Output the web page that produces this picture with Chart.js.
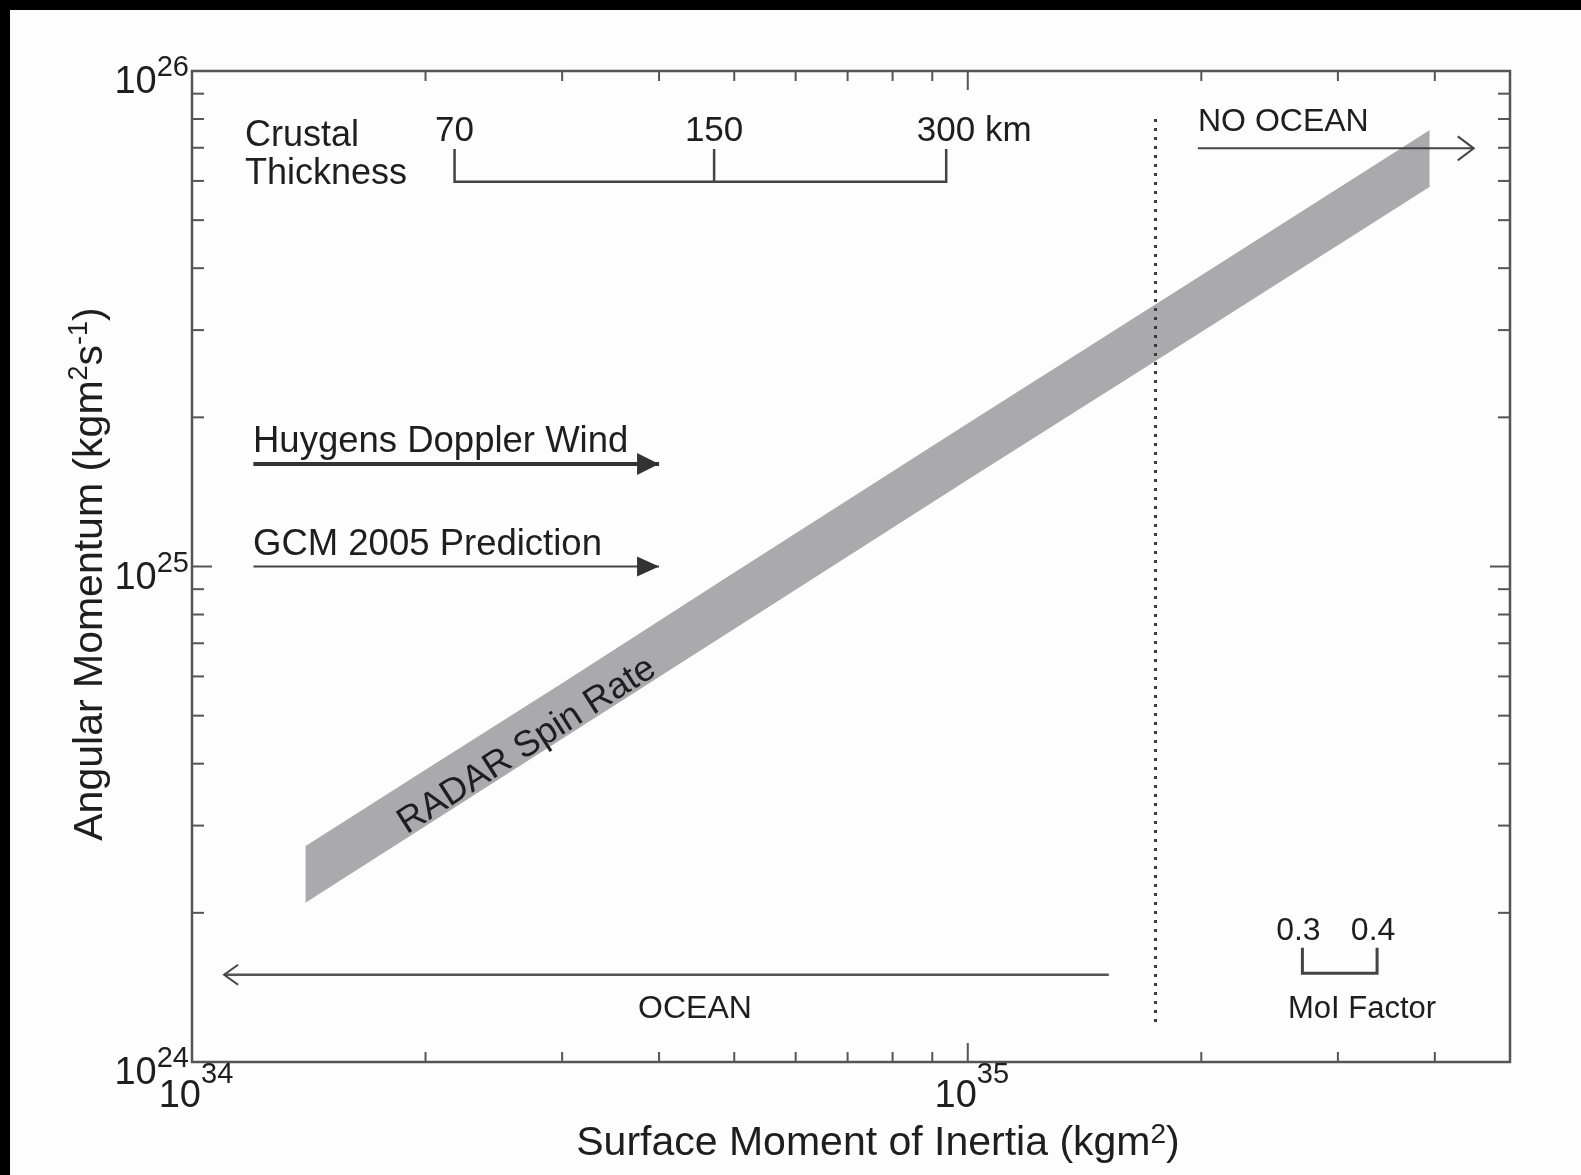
<!DOCTYPE html>
<html>
<head>
<meta charset="utf-8">
<title>Angular Momentum vs Surface Moment of Inertia</title>
<script src="https://cdn.jsdelivr.net/npm/chart.js@4.4.1/dist/chart.umd.min.js"></script>
<style>
    html, body { margin: 0; padding: 0; background: #000; }
    #wrap { position: relative; width: 1581px; height: 1175px; }
</style>
</head>
<body>
<div id="wrap"><canvas id="momentumChart"></canvas></div>
<script>
// =============================================================================
// Data
// =============================================================================

const xRange = [1e34, 5e35];
const yRange = [1e24, 1e26];

const xMajorTicks = [1e34, 1e35];
const xMajorExponents = ['34', '35'];
const xMinorTicks = [2e34, 3e34, 4e34, 5e34, 6e34, 7e34, 8e34, 9e34, 2e35, 3e35, 4e35];
const yMajorTicks = [1e24, 1e25, 1e26];
const yMajorExponents = ['24', '25', '26'];
const yMinorTicks = [2e24, 3e24, 4e24, 5e24, 6e24, 7e24, 8e24, 9e24,
                     2e25, 3e25, 4e25, 5e25, 6e25, 7e25, 8e25, 9e25];

// RADAR spin rate band
const bandMoment = [1.40e34, 2.0e34, 3.0e34, 5.0e34, 1.0e35, 2.0e35, 3.94e35];
const bandUpper  = [2.72e24, 3.88e24, 5.80e24, 9.70e24, 1.94e25, 3.86e25, 7.58e25];
const bandLower  = [2.10e24, 3.00e24, 4.50e24, 7.50e24, 1.50e25, 2.98e25, 5.85e25];

// ocean / no-ocean boundary (dotted)
const boundaryMoment = [1.746e35, 1.746e35];
const boundaryMomentum = [8.0e25, 1.2e24];

// wind estimates
const windLabels = ['Huygens Doppler Wind', 'GCM 2005 Prediction'];
const windMomentum = [1.61e25, 1.0e25];
const windArrowX = [1.2e34, 4.0e34];

// ocean arrows
const oceanArrowX = [1.52e35, 1.10e34];
const oceanArrowY = 1.5e24;
const noOceanArrowX = [1.98e35, 4.49e35];
const noOceanArrowY = 6.98e25;

// crustal thickness scale
const crustLabels = ['70', '150', '300 km'];
const crustMoment = [2.18e34, 4.71e34, 9.38e34];
const crustBracketY = [6.96e25, 5.98e25];

// MoI factor scale
const moiLabels = ['0.3', '0.4'];
const moiMoment = [2.70e35, 3.37e35];
const moiBracketY = [1.70e24, 1.51e24];

// =============================================================================
// Styling
// =============================================================================

const FONT = '"Liberation Sans", Arial, Helvetica, sans-serif';
const INK = '#1e1e1e';
const FRAME = '#555';
const BAND = 'rgb(170, 170, 173)';

function pts(xs, ys) {
    return xs.map((x, i) => ({ x: x, y: Array.isArray(ys) ? ys[i] : ys }));
}

function bracketPath(xs, top, bottom) {
    const out = [];
    xs.forEach((x, i) => {
        if (i === 0) {
            out.push({ x: x, y: top }, { x: x, y: bottom });
        } else {
            out.push({ x: x, y: bottom }, { x: x, y: top });
            if (i < xs.length - 1) out.push({ x: x, y: bottom });
        }
    });
    return out;
}

function lineSet(data, color, width, extra) {
    return Object.assign({
        data: data,
        showLine: true,
        borderColor: color,
        borderWidth: width,
        pointRadius: 0,
        fill: false
    }, extra || {});
}

// draw text made of pieces [text, size, rise]
function drawRich(ctx, parts, x, y, align) {
    let total = 0;
    parts.forEach(p => {
        ctx.font = p[1] + 'px ' + FONT;
        total += ctx.measureText(p[0]).width;
    });
    let cx = x;
    if (align === 'center') cx = x - total / 2;
    if (align === 'right') cx = x - total;
    ctx.textAlign = 'left';
    ctx.textBaseline = 'alphabetic';
    parts.forEach(p => {
        ctx.font = p[1] + 'px ' + FONT;
        ctx.fillText(p[0], cx, y - p[2]);
        cx += ctx.measureText(p[0]).width;
    });
}

function seg(ctx, x1, y1, x2, y2) {
    ctx.beginPath();
    ctx.moveTo(x1, y1);
    ctx.lineTo(x2, y2);
    ctx.stroke();
}

function solidHead(ctx, tx, ty, dir, len, half) {
    ctx.beginPath();
    ctx.moveTo(tx, ty);
    ctx.lineTo(tx - dir * len, ty - half);
    ctx.lineTo(tx - dir * len, ty + half);
    ctx.closePath();
    ctx.fill();
}

function openHead(ctx, tx, ty, dir, len, half) {
    ctx.beginPath();
    ctx.moveTo(tx - dir * len, ty - half);
    ctx.lineTo(tx, ty);
    ctx.lineTo(tx - dir * len, ty + half);
    ctx.stroke();
}

// =============================================================================
// Figure decorations (frame, ticks, labels, arrows)
// =============================================================================

const figurePlugin = {
    id: 'figureDecor',
    beforeDraw(chart) {
        const ctx = chart.ctx;
        ctx.save();
        ctx.fillStyle = '#000';
        ctx.fillRect(0, 0, chart.width, chart.height);
        ctx.fillStyle = '#fdfdfd';
        ctx.fillRect(10, 10, chart.width - 10, chart.height - 10);
        ctx.restore();
    },
    afterDatasetsDraw(chart) {
        const ctx = chart.ctx;
        const a = chart.chartArea;
        const xs = chart.scales.x;
        const ys = chart.scales.y;
        ctx.save();

        // arrow heads
        ctx.fillStyle = '#333';
        ctx.strokeStyle = '#444';
        ctx.lineWidth = 2;
        windMomentum.forEach((m, i) => {
            const tx = xs.getPixelForValue(windArrowX[1]);
            const ty = ys.getPixelForValue(m);
            solidHead(ctx, tx, ty, 1, 22, i === 0 ? 11 : 10);
        });
        openHead(ctx, xs.getPixelForValue(oceanArrowX[1]), ys.getPixelForValue(oceanArrowY), -1, 14, 10);
        openHead(ctx, xs.getPixelForValue(noOceanArrowX[1]), ys.getPixelForValue(noOceanArrowY), 1, 16, 12);

        // frame
        ctx.strokeStyle = FRAME;
        ctx.lineWidth = 2.5;
        ctx.strokeRect(a.left, a.top, a.right - a.left, a.bottom - a.top);

        // inward ticks
        ctx.lineWidth = 2;
        xMinorTicks.forEach(v => {
            const px = xs.getPixelForValue(v);
            seg(ctx, px, a.bottom, px, a.bottom - 10);
            seg(ctx, px, a.top, px, a.top + 10);
        });
        xMajorTicks.forEach(v => {
            const px = xs.getPixelForValue(v);
            seg(ctx, px, a.bottom, px, a.bottom - 19);
            seg(ctx, px, a.top, px, a.top + 19);
        });
        yMinorTicks.forEach(v => {
            const py = ys.getPixelForValue(v);
            seg(ctx, a.left, py, a.left + 12, py);
            seg(ctx, a.right, py, a.right - 12, py);
        });
        yMajorTicks.forEach(v => {
            const py = ys.getPixelForValue(v);
            seg(ctx, a.left, py, a.left + 20, py);
            seg(ctx, a.right, py, a.right - 20, py);
        });

        // tick labels
        ctx.fillStyle = INK;
        xMajorTicks.forEach((v, i) => {
            const px = xs.getPixelForValue(v);
            drawRich(ctx, [['10', 38, 0], [xMajorExponents[i], 29, 24]], px + 4, a.bottom + 45, 'center');
        });
        yMajorTicks.forEach((v, i) => {
            const py = ys.getPixelForValue(v);
            drawRich(ctx, [['10', 38, 0], [yMajorExponents[i], 29, 17]], a.left - 3, py + 22, 'right');
        });

        // axis titles
        drawRich(ctx, [['Surface Moment of Inertia (kgm', 41, 0], ['2', 28, 12], [')', 41, 0]],
                 878, 1155, 'center');
        ctx.save();
        ctx.translate(102, 574);
        ctx.rotate(-Math.PI / 2);
        drawRich(ctx, [['Angular Momentum (kgm', 41, 0], ['2', 27, 15], ['s', 41, 0],
                       ['-1', 27, 15], [')', 41, 0]], 0, 0, 'center');
        ctx.restore();

        // crustal thickness scale
        drawRich(ctx, [['Crustal', 36, 0]], 245, 146, 'left');
        drawRich(ctx, [['Thickness', 36, 0]], 245, 184, 'left');
        crustLabels.forEach((t, i) => {
            const px = xs.getPixelForValue(crustMoment[i]);
            const off = i === 2 ? 28 : 0;
            drawRich(ctx, [[t, 35, 0]], px + off, 141, 'center');
        });

        // MoI factor scale
        moiLabels.forEach((t, i) => {
            const px = xs.getPixelForValue(moiMoment[i]);
            drawRich(ctx, [[t, 32, 0]], px - 4, 940, 'center');
        });
        drawRich(ctx, [['MoI Factor', 31, 0]], 1362, 1018, 'center');

        // ocean labels
        drawRich(ctx, [['NO OCEAN', 32, 0]], 1198, 131, 'left');
        drawRich(ctx, [['OCEAN', 32, 0]], 695, 1018, 'center');

        // wind labels
        windLabels.forEach((t, i) => {
            const py = ys.getPixelForValue(windMomentum[i]);
            drawRich(ctx, [[t, 36.5, 0]], 253, py - 12, 'left');
        });

        // band label
        ctx.save();
        ctx.translate(526, 744);
        ctx.rotate(-32.6 * Math.PI / 180);
        drawRich(ctx, [['RADAR Spin Rate', 36.5, 0]], 0, 12, 'center');
        ctx.restore();

        ctx.restore();
    }
};

// =============================================================================
// Chart
// =============================================================================

const ctx = document.getElementById('momentumChart').getContext('2d');
const momentumChart = new Chart(ctx, {
    type: 'scatter',
    data: {
        datasets: [
            lineSet(pts(boundaryMoment, boundaryMomentum), '#3a3a3a', 3, { borderDash: [3, 6] }),
            lineSet(pts(windArrowX, windMomentum[0]), '#333', 4),
            lineSet(pts(windArrowX, windMomentum[1]), '#444', 2),
            lineSet(pts(oceanArrowX, oceanArrowY), '#555', 2.5),
            lineSet(pts(noOceanArrowX, noOceanArrowY), '#444', 2),
            lineSet(bracketPath(crustMoment, crustBracketY[0], crustBracketY[1]), '#444', 2.5),
            lineSet(bracketPath(moiMoment, moiBracketY[0], moiBracketY[1]), '#444', 3),
            lineSet(pts(bandMoment, bandUpper), BAND, 1, { fill: '+1', backgroundColor: BAND }),
            lineSet(pts(bandMoment, bandLower), BAND, 1)
        ]
    },
    options: {
        responsive: true,
        maintainAspectRatio: false,
        animation: false,
        layout: { padding: { left: 192, right: 71, top: 71, bottom: 113 } },
        plugins: {
            legend: { display: false },
            tooltip: { enabled: false }
        },
        scales: {
            x: { type: 'logarithmic', min: xRange[0], max: xRange[1], display: false },
            y: { type: 'logarithmic', min: yRange[0], max: yRange[1], display: false }
        }
    },
    plugins: [figurePlugin]
});
</script>
</body>
</html>
